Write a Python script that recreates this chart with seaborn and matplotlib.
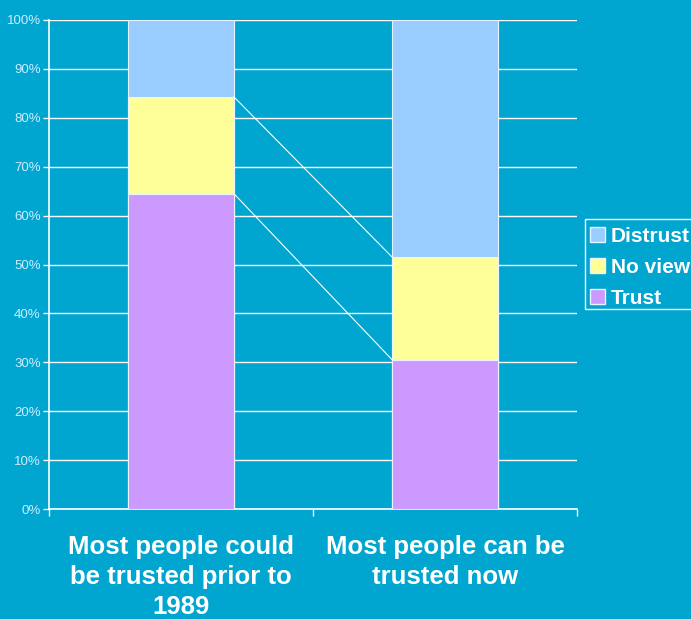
import matplotlib
matplotlib.use("Agg")
import matplotlib.pyplot as plt
import seaborn as sns
import pandas as pd
from matplotlib.patches import Patch, Rectangle

categories = ["Most people could\nbe trusted prior to\n1989", "Most people can be\ntrusted now"]
trust = [64.5, 30.5]
no_view = [19.8, 21.0]
distrust = [15.7, 48.5]
yticks = [0, 10, 20, 30, 40, 50, 60, 70, 80, 90, 100]
ytick_labels = [f"{v}%" for v in yticks]

BG = "#00A5D0"
C_TRUST = "#CC99FF"
C_NOVIEW = "#FFFF99"
C_DISTRUST = "#99CCFF"

sns.set_theme(style="white")
plt.rcParams['font.family'] = ['Liberation Sans', 'DejaVu Sans']

df = pd.DataFrame({
    "cat": categories,
    "trust": trust,
    "noview_cum": [t + n for t, n in zip(trust, no_view)],
    "total": [t + n + d for t, n, d in zip(trust, no_view, distrust)],
})

fig = plt.figure(figsize=(6.91, 6.19), dpi=100, facecolor=BG)
ax = fig.add_axes([49/691, 1-509/619, (577-49)/691, (509-20)/619])
ax.set_facecolor(BG)

for col, color in [("total", C_DISTRUST), ("noview_cum", C_NOVIEW), ("trust", C_TRUST)]:
    sns.barplot(data=df, x="cat", y=col, color=color, width=0.4, ax=ax,
                edgecolor="#E8F4FF", linewidth=0.8, saturation=1, zorder=3)

ax.set_xlim(-0.5, 1.5)
ax.set_ylim(0, 100)
ax.set_yticks(yticks)
ax.set_yticklabels(ytick_labels, color="#CCEEFF", fontsize=9.5)
ax.yaxis.grid(True, color="white", linewidth=1.0, zorder=0)
ax.set_axisbelow(True)
ax.tick_params(axis="y", length=4, color="white", width=1, pad=2, left=True)

ax.set_xticks([0, 1])
ax.set_xticklabels(categories, color="white", fontsize=18.5, fontweight="bold", linespacing=1.3)
ax.tick_params(axis="x", length=0, pad=19)
ax.set_xticks([-0.5, 0.5, 1.5], minor=True)
ax.tick_params(axis="x", which="minor", length=5, color="white", width=1, bottom=True)
ax.set_xlabel("")
ax.set_ylabel("")

for s in ["top", "right"]:
    ax.spines[s].set_visible(False)
for s in ["left", "bottom"]:
    ax.spines[s].set_color("white")
    ax.spines[s].set_linewidth(1.2)

# series connector lines
half = 0.2
ax.plot([0 + half, 1 - half], [df["trust"][0], df["trust"][1]], color="white", linewidth=0.8, zorder=4)
ax.plot([0 + half, 1 - half], [df["noview_cum"][0], df["noview_cum"][1]], color="white", linewidth=0.8, zorder=4)

handles = [Patch(facecolor=C_DISTRUST, edgecolor="#E8F4FF", label="Distrust"),
           Patch(facecolor=C_NOVIEW, edgecolor="#E8F4FF", label="No view"),
           Patch(facecolor=C_TRUST, edgecolor="#E8F4FF", label="Trust")]
leg = fig.legend(handles=handles, loc="upper left", bbox_to_anchor=(590/691, 1-227/619),
                 frameon=False,
                 prop={"weight": "bold", "size": 15}, labelcolor="white",
                 handlelength=0.7, handleheight=0.7, handletextpad=0.3,
                 borderpad=0, labelspacing=0.57, borderaxespad=0)
fig.add_artist(Rectangle((585/691, 1-309/619), 110/691, 90/619, transform=fig.transFigure,
                         fill=False, edgecolor="white", linewidth=1.0))

fig.savefig("out.png", dpi=100, facecolor=BG)
